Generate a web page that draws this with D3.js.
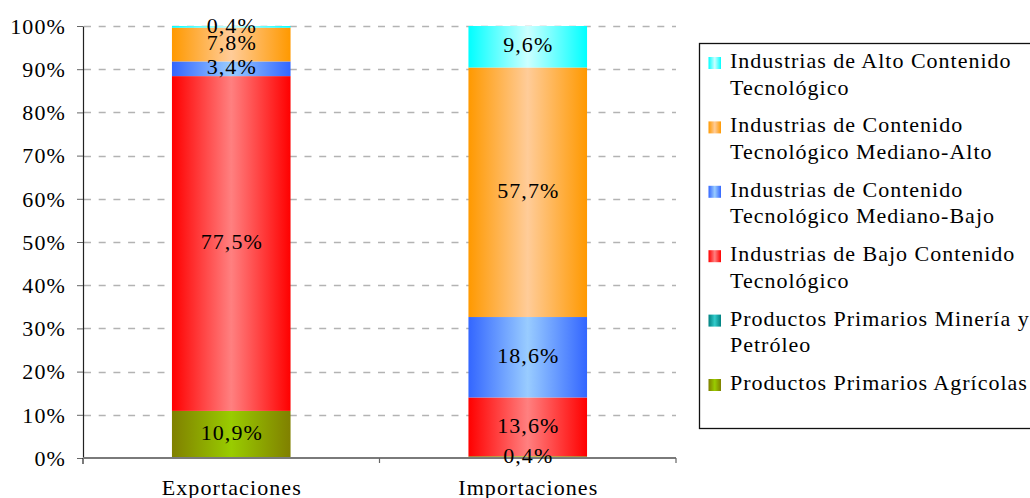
<!DOCTYPE html>
<html>
<head>
<meta charset="utf-8">
<script src="https://cdn.jsdelivr.net/npm/d3@7"></script>
<style>
  html, body { margin: 0; padding: 0; background: #fff; }
  svg { display: block; }
  text { font-family: "Liberation Serif", "Times New Roman", serif; fill: #000; }
</style>
</head>
<body>
<svg id="chart" width="1030" height="498"></svg>
<script>
// Categories on the x axis
const categories = ["Exportaciones", "Importaciones"];

// Series, from the bottom of each stack to the top
const seriesKeys = ["agricolas", "mineria", "bajo", "medianoBajo", "medianoAlto", "alto"];

// Shares (%) per category, one array per series
const agricolas   = [10.9, 0.4];
const mineria     = [0.0, 0.0];
const bajo        = [77.5, 13.6];
const medianoBajo = [3.4, 18.6];
const medianoAlto = [7.8, 57.7];
const alto        = [0.4, 9.6];

// Legend labels (wrapped lines), same order as seriesKeys
const legendLabels = [
  ["Productos Primarios Agrícolas"],
  ["Productos Primarios Minería y", "Petróleo"],
  ["Industrias de Bajo Contenido", "Tecnológico"],
  ["Industrias de Contenido", "Tecnológico Mediano-Bajo"],
  ["Industrias de Contenido", "Tecnológico Mediano-Alto"],
  ["Industrias de Alto Contenido", "Tecnológico"]
];

// Y axis tick values
const yTicks = [0, 0.1, 0.2, 0.3, 0.4, 0.5, 0.6, 0.7, 0.8, 0.9, 1.0];

// Edge / centre colours of each series' horizontal gradient
const edgeColors   = ["#808000", "#008080", "#ff0000", "#3366ff", "#ff9900", "#00ffff"];
const centerColors = ["#99cc00", "#33cccc", "#ff8080", "#99ccff", "#ffcc99", "#ccffff"];

const seriesValues = [agricolas, mineria, bajo, medianoBajo, medianoAlto, alto];
const rows = categories.map((c, i) => {
  const r = { category: c };
  seriesKeys.forEach((k, j) => { r[k] = seriesValues[j][i]; });
  return r;
});

const svg = d3.select("#chart");
const FONT = 22, SPACING = 1.1;

const plot = { left: 83, right: 676, top: 26, bottom: 458 };

const x = d3.scaleBand().domain(categories).range([plot.left, plot.right]).padding(0);
const y = d3.scaleLinear().domain([0, 1]).range([plot.bottom, plot.top]);
const barW = x.bandwidth() * 0.4;

const stacked = d3.stack().keys(seriesKeys).offset(d3.stackOffsetExpand)(rows);

const locale = d3.formatLocale({ decimal: ",", thousands: ".", grouping: [3], currency: ["", "€"] });
const fmtVal = v => locale.format(".1f")(v) + "%";

// gradients
const defs = svg.append("defs");
seriesKeys.forEach((k, i) => {
  const g = defs.append("linearGradient").attr("id", "grad-" + k)
    .attr("x1", 0).attr("x2", 1).attr("y1", 0).attr("y2", 0);
  g.append("stop").attr("offset", 0).attr("stop-color", edgeColors[i]);
  g.append("stop").attr("offset", 0.5).attr("stop-color", centerColors[i]);
  g.append("stop").attr("offset", 1).attr("stop-color", edgeColors[i]);
});

// dashed gridlines
svg.append("g").selectAll("line")
  .data(yTicks.filter(t => t > 0))
  .join("line")
  .attr("x1", plot.left + 1).attr("x2", plot.right)
  .attr("y1", d => Math.round(y(d)) + 0.5).attr("y2", d => Math.round(y(d)) + 0.5)
  .attr("stroke", "#b3b3b3").attr("stroke-width", 1.3)
  .attr("stroke-dasharray", "7,7.7");

// stacked bars
const layers = svg.append("g").selectAll("g")
  .data(stacked)
  .join("g")
  .attr("fill", d => "url(#grad-" + d.key + ")");

layers.selectAll("rect")
  .data(d => d)
  .join("rect")
  .attr("x", d => x(d.data.category) + (x.bandwidth() - barW) / 2)
  .attr("y", d => y(d[1]))
  .attr("width", barW)
  .attr("height", d => y(d[0]) - y(d[1]));

// y axis
const yAxis = d3.axisLeft(y).tickValues(yTicks).tickFormat(d3.format(".0%"))
  .tickSize(6).tickSizeOuter(0).tickPadding(11);
const gy = svg.append("g").attr("transform", `translate(${plot.left},0)`).call(yAxis);
gy.select(".domain").attr("stroke", "#222").attr("stroke-width", 1.2);
gy.selectAll(".tick line").attr("stroke", "#666");
gy.selectAll(".tick text")
  .attr("font-size", FONT).attr("font-family", "Liberation Serif, serif")
  .attr("letter-spacing", SPACING + "px").attr("dy", "0.33em").attr("fill", "#000");
svg.append("line")
  .attr("x1", plot.left).attr("x2", plot.left)
  .attr("y1", plot.bottom).attr("y2", plot.bottom + 6)
  .attr("stroke", "#222").attr("stroke-width", 1.2);

// x axis line and boundary ticks
svg.append("line")
  .attr("x1", plot.left).attr("x2", plot.right)
  .attr("y1", plot.bottom).attr("y2", plot.bottom)
  .attr("stroke", "#7a7a7a").attr("stroke-width", 2);
const bounds = categories.map(c => x(c)).concat([x.range()[1]]);
svg.append("g").selectAll("line")
  .data(bounds.slice(1))
  .join("line")
  .attr("x1", d => d).attr("x2", d => d)
  .attr("y1", plot.bottom).attr("y2", plot.bottom + 5)
  .attr("stroke", "#666").attr("stroke-width", 1.2);

// category labels
svg.append("g").selectAll("text")
  .data(categories)
  .join("text")
  .attr("x", d => x(d) + x.bandwidth() / 2 + SPACING / 2)
  .attr("y", plot.bottom + 36.5)
  .attr("text-anchor", "middle")
  .attr("font-size", FONT).attr("letter-spacing", SPACING + "px")
  .text(d => d);

// value labels in the middle of each segment
const labelData = [];
stacked.forEach(layer => {
  layer.forEach(d => {
    const v = d.data[layer.key];
    if (v > 0) labelData.push({ cat: d.data.category, mid: (d[0] + d[1]) / 2, v });
  });
});
svg.append("g").selectAll("text")
  .data(labelData)
  .join("text")
  .attr("x", d => x(d.cat) + x.bandwidth() / 2 + SPACING / 2)
  .attr("y", d => y(d.mid))
  .attr("dy", "0.26em")
  .attr("text-anchor", "middle")
  .attr("font-size", FONT).attr("letter-spacing", SPACING + "px")
  .text(d => fmtVal(d.v));

// legend
const legend = svg.append("g");
legend.append("rect")
  .attr("x", 699.5).attr("y", 43.5)
  .attr("width", 420).attr("height", 385)
  .attr("fill", "#fff").attr("stroke", "#111").attr("stroke-width", 1.3);

const legendOrder = seriesKeys.map((k, i) => ({ key: k, lines: legendLabels[i] })).reverse();
const items = legend.selectAll("g.item")
  .data(legendOrder)
  .join("g").attr("class", "item")
  .attr("transform", (d, i) => `translate(0,${68 + i * 64.4})`);
items.append("rect")
  .attr("x", 708.5).attr("y", -11)
  .attr("width", 12.5).attr("height", 12)
  .attr("fill", d => "url(#grad-" + d.key + ")");
items.each(function (d) {
  const t = d3.select(this).append("text")
    .attr("x", 730).attr("y", 0)
    .attr("font-size", FONT).attr("letter-spacing", "1.0px");
  d.lines.forEach((line, j) => {
    t.append("tspan").attr("x", 730).attr("y", j * 26.7).text(line);
  });
});
</script>
</body>
</html>
